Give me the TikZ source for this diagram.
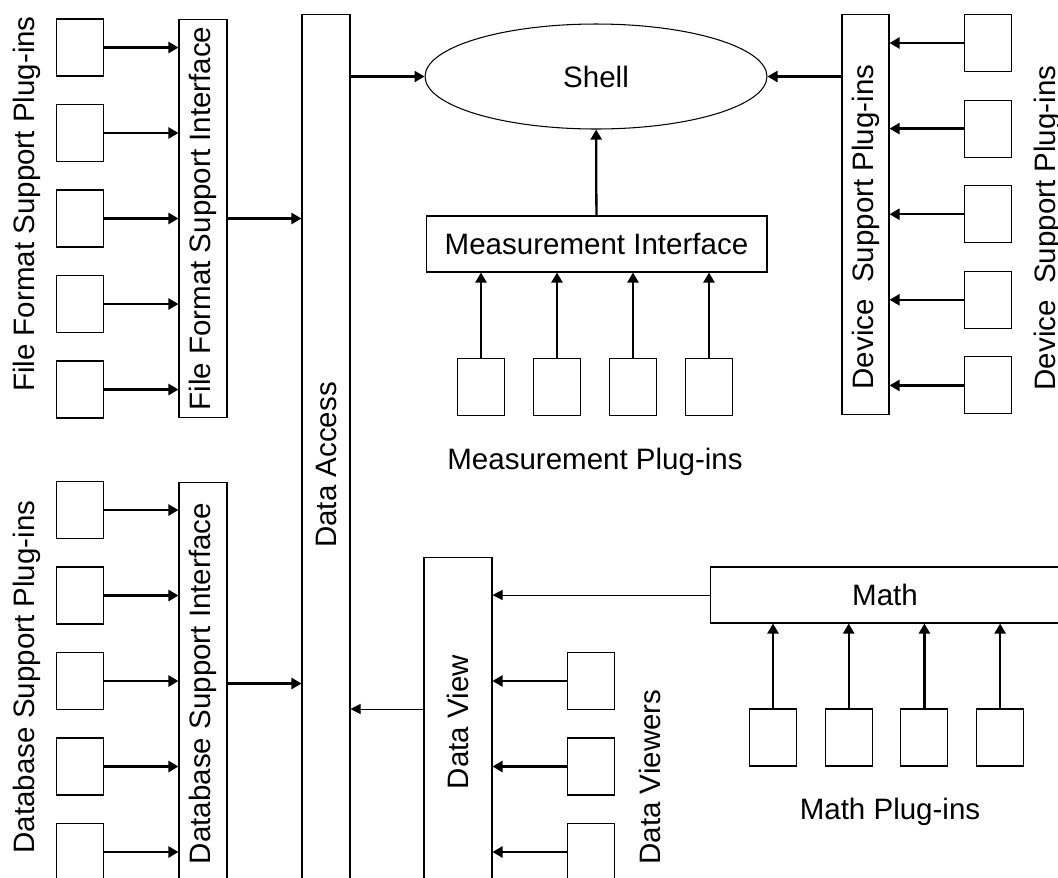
\documentclass[tikz,border=0pt]{standalone}
\usepackage{fontspec}
\setmainfont{Liberation Sans}
\usetikzlibrary{arrows.meta,positioning,shapes.geometric}
\tikzset{
  bloc/.style={draw,line width=0.6pt,inner sep=0pt,align=center},
  plug/.style={bloc,minimum width=0.94cm,minimum height=1.14cm},
  bande/.style={bloc,minimum width=0.96cm},
  barre/.style={bloc,minimum height=1.12cm},
  fl/.style={-{Triangle[length=0.2cm,width=0.22cm]},line width=1.3pt},
  flfin/.style={-{Triangle[length=0.2cm,width=0.2cm]},line width=0.5pt},
  lbl/.style={inner sep=0pt},
}

\begin{document}
\begin{tikzpicture}[x=0.02cm,y=-0.02cm,font=\fontsize{16.8pt}{20pt}\selectfont]
  \useasboundingbox (0,0) rectangle (1058,877);
  \clip (0,0) rectangle (1058,877);
  % blocs principaux
  \node[bande,minimum height=18.04cm] (da) at (326,465) {\rotatebox{90}{Data Access}};
  \node[bande,minimum height=7.98cm] (ffsi) at (203,218.5) {\rotatebox{90}{File Format Support Interface}};
  \node[bande,minimum height=8.06cm] (dsi) at (203,683.5) {\rotatebox{90}{Database Support Interface}};
  \node[bande,minimum width=0.94cm,minimum height=8.02cm] (dsp) at (865.5,214.5) {\rotatebox{90}{Device\ \ Support Plug-ins\hspace{0.5cm}}};
  \node[bande,minimum width=1.36cm,minimum height=6.6cm] (dv) at (458,722) {\rotatebox{90}{Data View}};
  \node[bloc,ellipse,minimum width=6.84cm,minimum height=2.1cm] (shell) at (596,76.5) {Shell};
  \node[barre,minimum width=6.82cm] (mi) at (596.5,244) {Measurement Interface};
  \node[barre,minimum width=7cm] (math) at (885,595) {Math};
  % plug-ins
  \foreach \i in {1,...,5} {
    \node[plug] (ff\i) at (80,{47.5+85.5*(\i-1)}) {};
    \draw[fl] (ff\i) -- (ff\i -| ffsi.west);
    \node[plug] (db\i) at (80,{510+85.5*(\i-1)}) {};
    \draw[fl] (db\i) -- (db\i -| dsi.west);
    \node[plug] (dp\i) at (988,{43+85.6*(\i-1)}) {};
    \draw[fl] (dp\i) -- (dp\i -| dsp.east);
  }
  \foreach \i in {1,...,4} {
    \node[plug] (mp\i) at ({481+76*(\i-1)},387) {};
    \draw[fl] (mp\i) -- (mp\i |- mi.south);
    \node[plug] (mm\i) at ({773+75.7*(\i-1)},737.5) {};
    \draw[fl] (mm\i) -- (mm\i |- math.south);
  }
  \foreach \i in {1,...,3} {
    \node[plug] (vw\i) at (591,{681+85.5*(\i-1)}) {};
    \draw[fl] (vw\i) -- (vw\i -| dv.east);
  }
  % libelles
  \node[lbl] (ffpl) at (27,204) {\rotatebox{90}{File Format Support Plug-ins}};
  \node[lbl] (dbpl) at (27,677) {\rotatebox{90}{Database Support Plug-ins}};
  \node[lbl] (dppl) at (1048,228) {\rotatebox{90}{Device\ \ Support Plug-ins}};
  \node[lbl] (mppl) at (595,462) {Measurement Plug-ins};
  \node[lbl] (mmpl) at (890,812) {Math Plug-ins};
  \node[lbl] (vwpl) at (650,777) {\rotatebox{90}{Data Viewers}};
  % liaisons
  \draw[fl] (ffsi.east) -- (ffsi.east -| da.west);
  \draw[fl] (dsi.east) -- (dsi.east -| da.west);
  \draw[fl] (da.east |- shell.west) -- (shell.west);
  \draw[fl] (dsp.west |- shell.east) -- (shell.east);
  \draw[fl] (mi) -- (shell);
  \draw[flfin] (math.west) -- (math.west -| dv.east);
  \draw[flfin] ([yshift=0.26cm]dv.west) -- ([yshift=0.26cm]dv.west -| da.east);
\end{tikzpicture}
\end{document}
